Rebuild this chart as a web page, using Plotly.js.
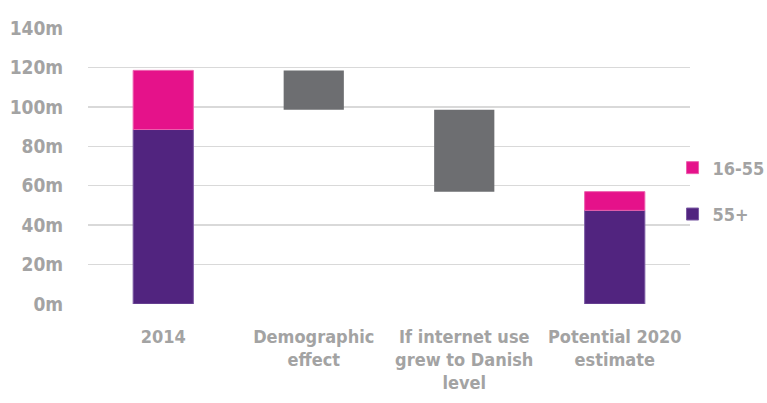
<!DOCTYPE html>
<html>
<head>
<meta charset="utf-8">
<script src="https://cdn.plot.ly/plotly-3.0.1.min.js"></script>
<style>html,body{margin:0;padding:0;background:#fff;}#chart{width:767px;height:403px;}</style>
</head>
<body>
<div id="chart"></div>
<script>
var categories = ["2014", "Demographic<br>effect", "If internet use<br>grew to Danish<br>level", "Potential 2020<br>estimate"];
var age55plus = [88.5, null, null, 47.5];
var age16to55 = [30, null, null, 9.5];
var changes = [null, -20, -41.5, null];
var tickVals = [0, 20, 40, 60, 80, 100, 120, 140];
var tickText = ["0m", "20m", "40m", "60m", "80m", "100m", "120m", "140m"];

var pinkBase = age55plus.map(function (v) { return v; });
var running = 0, changeBase = [];
for (var i = 0; i < categories.length; i++) {
  if (age55plus[i] !== null) { running = age55plus[i] + age16to55[i]; changeBase.push(null); }
  else { changeBase.push(running); running += changes[i]; }
}

var font = "'DejaVu Sans Condensed', 'Liberation Sans Narrow', 'Arial Narrow', sans-serif";
var grey = "#a3a3a3";

var data = [
  { type: "bar", name: "55+", x: categories, y: age55plus, marker: { color: "#51247f", line: { color: "#7b5aa3", width: 1 } }, legendgroup: "a", legendrank: 2, hoverinfo: "skip" },
  { type: "bar", name: "16-55", x: categories, y: age16to55, base: pinkBase, marker: { color: "#e5128a", line: { color: "#ec5fae", width: 1 } }, legendgroup: "b", legendrank: 1, hoverinfo: "skip" },
  { type: "bar", name: "change", x: categories, y: changes, base: changeBase, marker: { color: "#6d6e71" }, showlegend: false, hoverinfo: "skip" }
];

var layout = {
  width: 767, height: 403,
  margin: { l: 88, r: 77, t: 28, b: 99, autoexpand: false },
  barmode: "overlay",
  bargap: 0.6,
  paper_bgcolor: "#fff", plot_bgcolor: "#fff",
  font: { family: font, size: 19, color: grey, weight: "bold" },
  xaxis: {
    tickfont: { family: font, size: 18, color: grey, weight: "bold" },
    tickangle: 0,
    ticks: "outside", ticklen: 16, tickcolor: "rgba(0,0,0,0)",
    showgrid: false, zeroline: false, showline: false, fixedrange: true
  },
  yaxis: {
    range: [0, 140], tickmode: "array", tickvals: tickVals, ticktext: tickText,
    tickfont: { family: font, size: 19, color: grey, weight: "bold" },
    ticks: "outside", ticklen: 20, tickcolor: "rgba(0,0,0,0)",
    showgrid: true, gridcolor: "#d9d9d9", gridwidth: 1.5,
    zeroline: false, showline: false, fixedrange: true
  },
  legend: {
    x: 0.971, xanchor: "left", y: 0.56, yanchor: "top",
    tracegroupgap: 20,
    font: { family: font, size: 18, color: grey, weight: "bold" },
    bgcolor: "rgba(0,0,0,0)"
  },
  showlegend: true
};

Plotly.newPlot("chart", data, layout, { displayModeBar: false, staticPlot: true });
</script>
</body>
</html>
